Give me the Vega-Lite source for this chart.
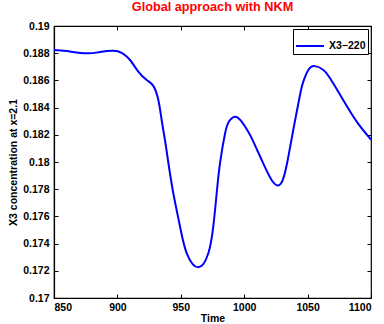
{
  "$schema": "https://vega.github.io/schema/vega-lite/v6.json",
  "width": 317,
  "height": 272,
  "autosize": {"type": "none"},
  "padding": {"left": 54, "top": 26, "right": 13, "bottom": 26},
  "background": "white",
  "title": {"text": "Global approach with NKM", "color": "#ff0000", "font": "Liberation Sans", "fontSize": 12.7, "fontWeight": "bold", "offset": 7, "anchor": "middle"},
  "config": {
    "view": {"stroke": "black", "strokeWidth": 1.2},
    "axis": {"grid": false, "domainColor": "black", "tickColor": "black", "labelColor": "black", "titleColor": "black", "labelFont": "Liberation Sans", "titleFont": "Liberation Sans", "labelFontSize": 10.5, "labelFontWeight": "bold", "titleFontSize": 10.5, "titleFontWeight": "bold", "tickSize": -4, "domainWidth": 1.2}
  },
  "data": {"values": [
    {"t": 850, "v": 0.18824, "s": "X3−220"},
    {"t": 860, "v": 0.18816, "s": "X3−220"},
    {"t": 875.8, "v": 0.18799, "s": "X3−220"},
    {"t": 886.3, "v": 0.18809, "s": "X3−220"},
    {"t": 896.8, "v": 0.18818, "s": "X3−220"},
    {"t": 903.4, "v": 0.18802, "s": "X3−220"},
    {"t": 910, "v": 0.18750, "s": "X3−220"},
    {"t": 916.5, "v": 0.18664, "s": "X3−220"},
    {"t": 923.1, "v": 0.18603, "s": "X3−220"},
    {"t": 928.3, "v": 0.18560, "s": "X3−220"},
    {"t": 932.3, "v": 0.18456, "s": "X3−220"},
    {"t": 934.9, "v": 0.18309, "s": "X3−220"},
    {"t": 937.5, "v": 0.18162, "s": "X3−220"},
    {"t": 940.1, "v": 0.18000, "s": "X3−220"},
    {"t": 944.1, "v": 0.17770, "s": "X3−220"},
    {"t": 949.4, "v": 0.17525, "s": "X3−220"},
    {"t": 954.7, "v": 0.17329, "s": "X3−220"},
    {"t": 963.8, "v": 0.17226, "s": "X3−220"},
    {"t": 971.7, "v": 0.17329, "s": "X3−220"},
    {"t": 975.6, "v": 0.17525, "s": "X3−220"},
    {"t": 978.3, "v": 0.17770, "s": "X3−220"},
    {"t": 980.9, "v": 0.17990, "s": "X3−220"},
    {"t": 984.9, "v": 0.18210, "s": "X3−220"},
    {"t": 988, "v": 0.18298, "s": "X3−220"},
    {"t": 992.7, "v": 0.18333, "s": "X3−220"},
    {"t": 998, "v": 0.18297, "s": "X3−220"},
    {"t": 1003.2, "v": 0.18223, "s": "X3−220"},
    {"t": 1007.2, "v": 0.18150, "s": "X3−220"},
    {"t": 1015, "v": 0.17990, "s": "X3−220"},
    {"t": 1022, "v": 0.17862, "s": "X3−220"},
    {"t": 1026.9, "v": 0.17828, "s": "X3−220"},
    {"t": 1030.5, "v": 0.17870, "s": "X3−220"},
    {"t": 1034, "v": 0.18000, "s": "X3−220"},
    {"t": 1038.7, "v": 0.18236, "s": "X3−220"},
    {"t": 1044, "v": 0.18493, "s": "X3−220"},
    {"t": 1046.6, "v": 0.18591, "s": "X3−220"},
    {"t": 1050.6, "v": 0.18677, "s": "X3−220"},
    {"t": 1055.8, "v": 0.18705, "s": "X3−220"},
    {"t": 1062.4, "v": 0.18677, "s": "X3−220"},
    {"t": 1067.7, "v": 0.18616, "s": "X3−220"},
    {"t": 1074.2, "v": 0.18517, "s": "X3−220"},
    {"t": 1081, "v": 0.18410, "s": "X3−220"},
    {"t": 1090, "v": 0.18280, "s": "X3−220"},
    {"t": 1100, "v": 0.18165, "s": "X3−220"}
  ]},
  "layer": [
    {
      "mark": {"type": "line", "interpolate": "natural", "strokeWidth": 2},
      "encoding": {
        "x": {"field": "t", "type": "quantitative", "scale": {"domain": [850, 1100], "nice": false, "zero": false}, "axis": {"title": "Time", "values": [850, 900, 950, 1000, 1050, 1100], "format": "d", "labelPadding": 8, "titlePadding": 1}},
        "y": {"field": "v", "type": "quantitative", "scale": {"domain": [0.17, 0.19], "nice": false, "zero": false}, "axis": {"title": "X3 concentration at x=2.1", "values": [0.17, 0.172, 0.174, 0.176, 0.178, 0.18, 0.182, 0.184, 0.186, 0.188, 0.19], "format": ".3~f", "labelPadding": 9, "titlePadding": 4}},
        "color": {"field": "s", "type": "nominal", "scale": {"domain": ["X3−220"], "range": ["#0000ff"]}, "legend": {"title": null, "orient": "top-right", "offset": 3, "strokeColor": "black", "fillColor": "white", "padding": 2, "symbolType": "stroke", "symbolSize": 784, "symbolStrokeWidth": 2, "labelFont": "Liberation Sans", "labelFontSize": 10.5, "labelFontWeight": "bold", "labelColor": "black", "labelOffset": 4, "cornerRadius": 0}}
      }
    },
    {
      "mark": {"type": "line", "opacity": 0},
      "encoding": {
        "x": {"field": "t", "type": "quantitative", "axis": {"orient": "top", "title": null, "labels": false, "values": [850, 900, 950, 1000, 1050, 1100], "domain": false}},
        "y": {"field": "v", "type": "quantitative", "axis": {"orient": "right", "title": null, "labels": false, "values": [0.17, 0.172, 0.174, 0.176, 0.178, 0.18, 0.182, 0.184, 0.186, 0.188, 0.19], "domain": false}}
      }
    }
  ],
  "resolve": {"axis": {"x": "independent", "y": "independent"}}
}
